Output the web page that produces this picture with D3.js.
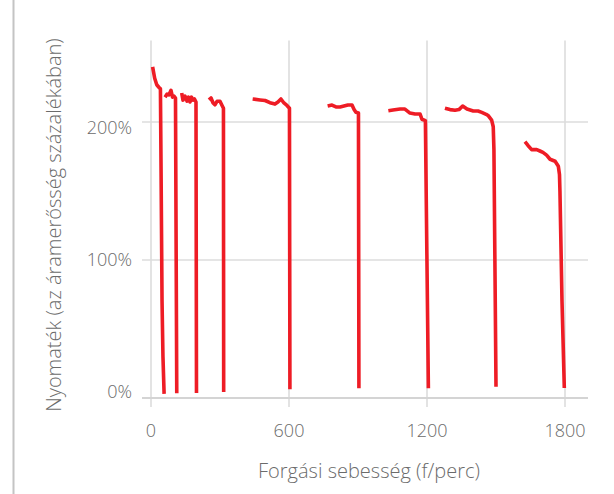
<!DOCTYPE html>
<html>
<head>
<meta charset="utf-8">
<script src="https://cdn.jsdelivr.net/npm/d3@7"></script>
<style>
  body { margin: 0; background: #fff; }
  text { font-family: "Open Sans", "Noto Sans", sans-serif; font-weight: 300; fill: #6b6b6b; }
</style>
</head>
<body>
<div id="chart"></div>
<script>
const width = 614;
const height = 494;

// x: speed (f/perc), y: torque (%)
const xTicks = [0, 600, 1200, 1800];
const yTicks = [0, 100, 200];
const yTickLabels = ["0%", "100%", "200%"];
const xLabel = "Forgási sebesség (f/perc)";
const yLabel = "Nyomaték (az áramerősség százalékában)";

const curve3hz = [[7, 240], [16, 231.7], [25, 227], [35, 225], [41, 224], [44, 160], [48, 70], [52, 30], [57, 3]];
const curve6hz = [[61, 218], [70, 220.3], [78, 219.6], [87, 223], [93.5, 218], [100, 218.8], [106.5, 217.4], [112, 3.4]];
const curve10hz = [[133.5, 221], [139, 215.9], [148, 218.8], [156.5, 215.2], [163, 218], [169.6, 214.5], [176, 218], [182.6, 215.9], [189, 216.7], [195.6, 214.5], [197.8, 3.6]];
const curve15hz = [[252, 216], [261, 217.4], [270, 213.8], [278, 212.5], [287, 215], [300, 215], [309, 212], [315, 210], [316, 4.3]];
const curve30hz = [[442, 216.7], [474, 216], [496, 215.6], [517, 214], [539, 213], [552, 214.5], [565, 216.7], [578, 213.8], [591, 212], [602, 210], [604, 6.3]];
const curve45hz = [[768, 211.6], [787, 212.3], [804, 211], [822, 210.9], [839, 211.6], [856, 212.3], [874, 212.3], [883, 209], [891, 207], [902, 206.5], [904, 7]];
const curve60hz = [[1032, 208.2], [1052, 208.7], [1083, 209.4], [1104, 209.4], [1126, 206.5], [1148, 205.8], [1170, 205.8], [1178, 202], [1193, 201], [1206, 7]];
const curve75hz = [[1278, 210], [1300, 209], [1322, 208.5], [1339, 209], [1355, 211.6], [1374, 209.4], [1401, 208], [1422, 208], [1438, 207], [1457, 205.6], [1467, 204.5], [1481, 201.4], [1488, 196.6], [1491, 180], [1500, 8.2]];
const curve90hz = [[1626, 185.7], [1639, 183], [1655, 180], [1677, 180], [1691, 179], [1704, 178], [1720, 176], [1735, 173], [1757, 171.6], [1771, 168], [1776, 162], [1778, 150], [1787, 70], [1797, 7.2]];
const curves = [curve3hz, curve6hz, curve10hz, curve15hz, curve30hz, curve45hz, curve60hz, curve75hz, curve90hz];

const x = d3.scaleLinear().domain([0, 1900]).range([151, 588]);
const y = d3.scaleLinear().domain([0, 259]).range([398, 40.6]);
// tick text sits a bit inside the gridlines in the original
const yText = d3.scaleLinear().domain([0, 200]).range([392, 128]);

const svg = d3.select("#chart")
    .append("svg")
    .attr("width", width)
    .attr("height", height);

// thin page border on the left
svg.append("line")
    .attr("x1", 13.5).attr("x2", 13.5)
    .attr("y1", 0).attr("y2", height)
    .attr("stroke", "#c4c4c4")
    .attr("stroke-width", 2);

const grid = svg.append("g").attr("class", "grid");

// horizontal gridlines, sticking out left of the axis
grid.selectAll("line.h")
    .data(yTicks.filter((d) => d > 0))
    .enter().append("line")
    .attr("class", "h")
    .attr("x1", x(0) - 9).attr("x2", x.range()[1])
    .attr("y1", (d) => y(d)).attr("y2", (d) => y(d))
    .attr("stroke", "#dcdcdc")
    .attr("stroke-width", 1.6);

// vertical gridlines, sticking out below the axis
grid.selectAll("line.v")
    .data(xTicks)
    .enter().append("line")
    .attr("class", "v")
    .attr("x1", (d) => x(d)).attr("x2", (d) => x(d))
    .attr("y1", y.range()[1]).attr("y2", y(0) + 9)
    .attr("stroke", "#dcdcdc")
    .attr("stroke-width", 1.6);

// axis baseline
grid.append("line")
    .attr("x1", x(0) - 9).attr("x2", x.range()[1])
    .attr("y1", y(0)).attr("y2", y(0))
    .attr("stroke", "#d4d4d4")
    .attr("stroke-width", 2);

svg.append("g")
    .selectAll("text")
    .data(xTicks)
    .enter().append("text")
    .attr("x", (d) => x(d))
    .attr("y", 437)
    .attr("text-anchor", "middle")
    .attr("font-size", 18)
    .text((d) => d);

svg.append("g")
    .selectAll("text")
    .data(yTicks)
    .enter().append("text")
    .attr("x", 132)
    .attr("y", (d) => yText(d))
    .attr("dy", "0.35em")
    .attr("text-anchor", "end")
    .attr("font-size", 18)
    .text((d, i) => yTickLabels[i]);

svg.append("text")
    .attr("x", 369)
    .attr("y", 478)
    .attr("text-anchor", "middle")
    .attr("font-size", 20)
    .text(xLabel);

svg.append("text")
    .attr("transform", "translate(61,225) rotate(-90)")
    .attr("text-anchor", "middle")
    .attr("font-size", 20)
    .text(yLabel);

const line = d3.line()
    .x((d) => x(d[0]))
    .y((d) => y(d[1]));

svg.append("g")
    .attr("class", "curves")
    .selectAll("path")
    .data(curves)
    .enter().append("path")
    .attr("d", line)
    .attr("fill", "none")
    .attr("stroke", "#ee1c25")
    .attr("stroke-width", 3.6)
    .attr("stroke-linejoin", "round");
</script>
</body>
</html>
